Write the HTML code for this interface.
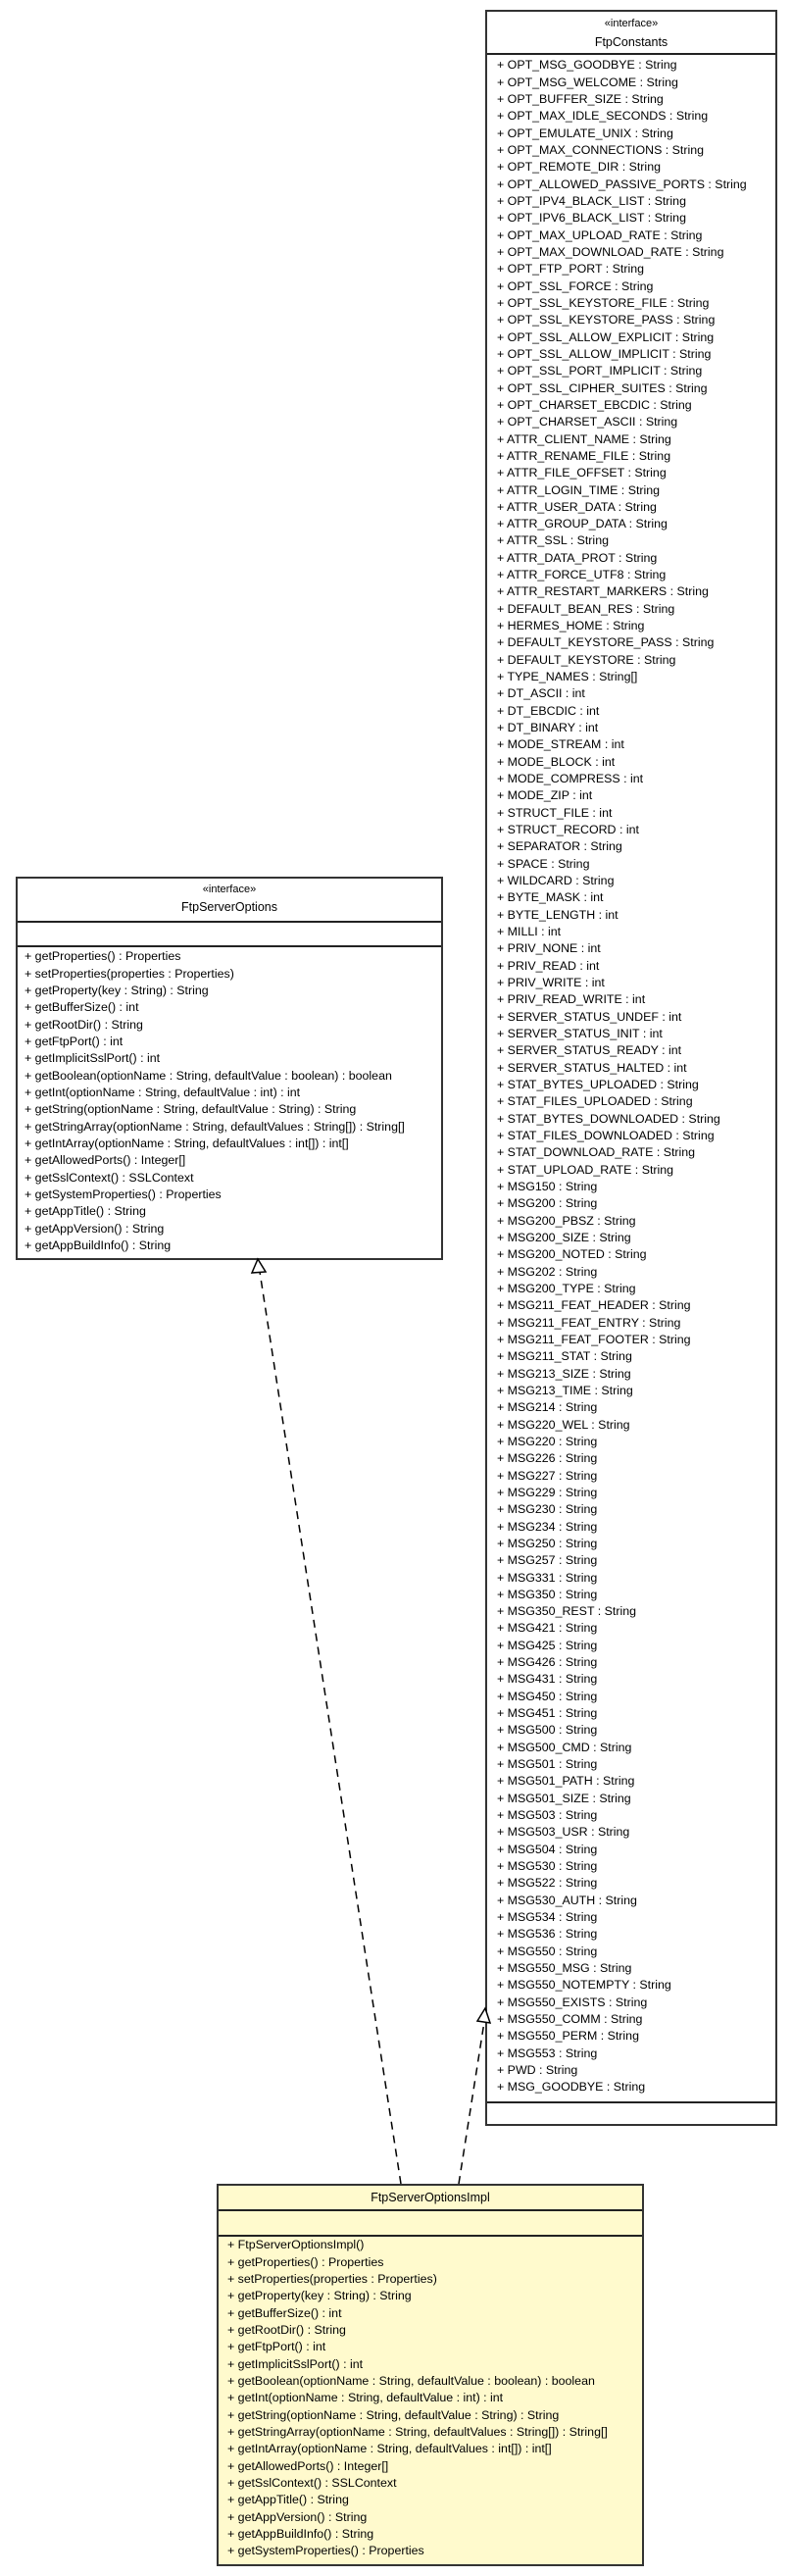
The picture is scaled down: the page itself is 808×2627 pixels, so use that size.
<!DOCTYPE html>
<html><head><meta charset="utf-8">
<style>
html,body{margin:0;padding:0;background:#fff;}
body{width:808px;height:2627px;position:relative;overflow:hidden;font-family:"Liberation Sans",Arial,sans-serif;color:#000;}
.box{position:absolute;border:2px solid #333;box-sizing:border-box;background:#fff;}
.impl{background:#fffacd;}
.hl{position:absolute;left:0;right:0;height:0;border-top:2px solid #222;}
.t{position:absolute;left:0;right:0;text-align:center;font-size:12.5px;line-height:17px;}
.st{font-size:11px;}
.rows{position:absolute;font-size:12.4px;line-height:17.33px;white-space:pre;}
svg{position:absolute;left:0;top:0;}
</style></head><body>

<!-- FtpConstants -->
<div class="box" style="left:495px;top:10px;width:298px;height:2158px;">
  <div class="t st" style="top:4px;">«interface»</div>
  <div class="t" style="top:23px;">FtpConstants</div>
  <div class="hl" style="top:42px;"></div>
  <div class="hl" style="top:2131px;"></div>
</div>
<div class="rows" style="left:507px;top:58.3px;">+ OPT_MSG_GOODBYE : String
+ OPT_MSG_WELCOME : String
+ OPT_BUFFER_SIZE : String
+ OPT_MAX_IDLE_SECONDS : String
+ OPT_EMULATE_UNIX : String
+ OPT_MAX_CONNECTIONS : String
+ OPT_REMOTE_DIR : String
+ OPT_ALLOWED_PASSIVE_PORTS : String
+ OPT_IPV4_BLACK_LIST : String
+ OPT_IPV6_BLACK_LIST : String
+ OPT_MAX_UPLOAD_RATE : String
+ OPT_MAX_DOWNLOAD_RATE : String
+ OPT_FTP_PORT : String
+ OPT_SSL_FORCE : String
+ OPT_SSL_KEYSTORE_FILE : String
+ OPT_SSL_KEYSTORE_PASS : String
+ OPT_SSL_ALLOW_EXPLICIT : String
+ OPT_SSL_ALLOW_IMPLICIT : String
+ OPT_SSL_PORT_IMPLICIT : String
+ OPT_SSL_CIPHER_SUITES : String
+ OPT_CHARSET_EBCDIC : String
+ OPT_CHARSET_ASCII : String
+ ATTR_CLIENT_NAME : String
+ ATTR_RENAME_FILE : String
+ ATTR_FILE_OFFSET : String
+ ATTR_LOGIN_TIME : String
+ ATTR_USER_DATA : String
+ ATTR_GROUP_DATA : String
+ ATTR_SSL : String
+ ATTR_DATA_PROT : String
+ ATTR_FORCE_UTF8 : String
+ ATTR_RESTART_MARKERS : String
+ DEFAULT_BEAN_RES : String
+ HERMES_HOME : String
+ DEFAULT_KEYSTORE_PASS : String
+ DEFAULT_KEYSTORE : String
+ TYPE_NAMES : String[]
+ DT_ASCII : int
+ DT_EBCDIC : int
+ DT_BINARY : int
+ MODE_STREAM : int
+ MODE_BLOCK : int
+ MODE_COMPRESS : int
+ MODE_ZIP : int
+ STRUCT_FILE : int
+ STRUCT_RECORD : int
+ SEPARATOR : String
+ SPACE : String
+ WILDCARD : String
+ BYTE_MASK : int
+ BYTE_LENGTH : int
+ MILLI : int
+ PRIV_NONE : int
+ PRIV_READ : int
+ PRIV_WRITE : int
+ PRIV_READ_WRITE : int
+ SERVER_STATUS_UNDEF : int
+ SERVER_STATUS_INIT : int
+ SERVER_STATUS_READY : int
+ SERVER_STATUS_HALTED : int
+ STAT_BYTES_UPLOADED : String
+ STAT_FILES_UPLOADED : String
+ STAT_BYTES_DOWNLOADED : String
+ STAT_FILES_DOWNLOADED : String
+ STAT_DOWNLOAD_RATE : String
+ STAT_UPLOAD_RATE : String
+ MSG150 : String
+ MSG200 : String
+ MSG200_PBSZ : String
+ MSG200_SIZE : String
+ MSG200_NOTED : String
+ MSG202 : String
+ MSG200_TYPE : String
+ MSG211_FEAT_HEADER : String
+ MSG211_FEAT_ENTRY : String
+ MSG211_FEAT_FOOTER : String
+ MSG211_STAT : String
+ MSG213_SIZE : String
+ MSG213_TIME : String
+ MSG214 : String
+ MSG220_WEL : String
+ MSG220 : String
+ MSG226 : String
+ MSG227 : String
+ MSG229 : String
+ MSG230 : String
+ MSG234 : String
+ MSG250 : String
+ MSG257 : String
+ MSG331 : String
+ MSG350 : String
+ MSG350_REST : String
+ MSG421 : String
+ MSG425 : String
+ MSG426 : String
+ MSG431 : String
+ MSG450 : String
+ MSG451 : String
+ MSG500 : String
+ MSG500_CMD : String
+ MSG501 : String
+ MSG501_PATH : String
+ MSG501_SIZE : String
+ MSG503 : String
+ MSG503_USR : String
+ MSG504 : String
+ MSG530 : String
+ MSG522 : String
+ MSG530_AUTH : String
+ MSG534 : String
+ MSG536 : String
+ MSG550 : String
+ MSG550_MSG : String
+ MSG550_NOTEMPTY : String
+ MSG550_EXISTS : String
+ MSG550_COMM : String
+ MSG550_PERM : String
+ MSG553 : String
+ PWD : String
+ MSG_GOODBYE : String</div>

<!-- FtpServerOptions -->
<div class="box" style="left:16px;top:894px;width:436px;height:391px;">
  <div class="t st" style="top:3px;">«interface»</div>
  <div class="t" style="top:21px;">FtpServerOptions</div>
  <div class="hl" style="top:43px;"></div>
  <div class="hl" style="top:68px;"></div>
</div>
<div class="rows" style="left:25px;top:967.3px;">+ getProperties() : Properties
+ setProperties(properties : Properties)
+ getProperty(key : String) : String
+ getBufferSize() : int
+ getRootDir() : String
+ getFtpPort() : int
+ getImplicitSslPort() : int
+ getBoolean(optionName : String, defaultValue : boolean) : boolean
+ getInt(optionName : String, defaultValue : int) : int
+ getString(optionName : String, defaultValue : String) : String
+ getStringArray(optionName : String, defaultValues : String[]) : String[]
+ getIntArray(optionName : String, defaultValues : int[]) : int[]
+ getAllowedPorts() : Integer[]
+ getSslContext() : SSLContext
+ getSystemProperties() : Properties
+ getAppTitle() : String
+ getAppVersion() : String
+ getAppBuildInfo() : String</div>

<!-- FtpServerOptionsImpl -->
<div class="box impl" style="left:221px;top:2227px;width:436px;height:390px;">
  <div class="t" style="top:4px;">FtpServerOptionsImpl</div>
  <div class="hl" style="top:24px;"></div>
  <div class="hl" style="top:50px;"></div>
</div>
<div class="rows" style="left:232px;top:2281.3px;">+ FtpServerOptionsImpl()
+ getProperties() : Properties
+ setProperties(properties : Properties)
+ getProperty(key : String) : String
+ getBufferSize() : int
+ getRootDir() : String
+ getFtpPort() : int
+ getImplicitSslPort() : int
+ getBoolean(optionName : String, defaultValue : boolean) : boolean
+ getInt(optionName : String, defaultValue : int) : int
+ getString(optionName : String, defaultValue : String) : String
+ getStringArray(optionName : String, defaultValues : String[]) : String[]
+ getIntArray(optionName : String, defaultValues : int[]) : int[]
+ getAllowedPorts() : Integer[]
+ getSslContext() : SSLContext
+ getAppTitle() : String
+ getAppVersion() : String
+ getAppBuildInfo() : String
+ getSystemProperties() : Properties</div>

<svg width="808" height="2627" viewBox="0 0 808 2627">
  <g stroke="#000" stroke-width="1.5" fill="none">
    <line x1="409" y1="2227" x2="265" y2="1297" stroke-dasharray="8,6"/>
    <polygon points="263,1284 257,1298 271,1297" fill="#fff"/>
    <line x1="468" y1="2227" x2="494" y2="2062" stroke-dasharray="8,6"/>
    <polygon points="495,2048 487,2061 500,2063" fill="#fff"/>
  </g>
</svg>
</body></html>
